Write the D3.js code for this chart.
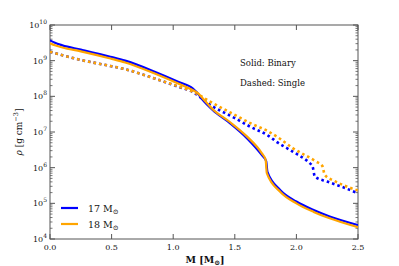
<!DOCTYPE html>
<html><head><meta charset="utf-8">
<script src="https://cdn.jsdelivr.net/npm/d3@7"></script>
<style>body{margin:0;background:#fff}svg{display:block}text{font-family:"DejaVu Serif",serif;fill:#111}</style>
</head><body><svg id="c" width="399" height="266"></svg>
<script>
// Data (log10 density vs. mass coordinate)
const massSolid17 = [0,0.04,0.1,0.25,0.49,0.61,0.85,1.04,1.16,1.19,1.23,1.32,1.46,1.6,1.72,1.755,1.765,1.87,2.0,2.14,2.27,2.5];
const logRhoBinary17 = [9.57,9.50,9.43,9.31,9.11,9.0,8.69,8.41,8.22,8.12,7.94,7.62,7.25,6.82,6.35,6.18,5.88,5.37,5.05,4.81,4.63,4.39];
const massSolid18 = [0,0.04,0.1,0.25,0.49,0.61,0.85,1.04,1.16,1.2,1.23,1.32,1.46,1.6,1.72,1.75,1.76,1.87,2.0,2.14,2.27,2.5];
const logRhoBinary18 = [9.49,9.43,9.37,9.26,9.06,8.95,8.64,8.36,8.17,8.09,7.98,7.64,7.28,6.87,6.40,6.22,5.85,5.32,5.00,4.76,4.58,4.33];
const massSingle17 = [0,0.08,0.25,0.49,0.61,0.85,1.04,1.16,1.3,1.5,1.63,1.77,1.85,1.97,2.11,2.13,2.15,2.25,2.38,2.5];
const logRhoSingle17 = [9.25,9.17,9.02,8.85,8.76,8.50,8.27,8.12,7.76,7.39,7.14,6.90,6.70,6.45,6.12,6.05,5.75,5.61,5.45,5.28];
const massSingle18 = [0,0.08,0.25,0.49,0.61,0.85,1.04,1.16,1.3,1.5,1.63,1.77,1.85,1.97,2.16,2.21,2.23,2.30,2.38,2.5];
const logRhoSingle18 = [9.25,9.17,9.02,8.85,8.76,8.50,8.28,8.13,7.85,7.48,7.24,7.02,6.85,6.55,6.17,6.05,5.80,5.64,5.51,5.36];
const xTicks = [0,0.5,1.0,1.5,2.0,2.5];
const yTickExps = [4,5,6,7,8,9,10];
const legendLabels = ["17 M","18 M"];
const colors = ["#0000ff","#ffa500"];

const svg = d3.select("#c");
const L=50,R=358,T=25,B=239;
const x = d3.scaleLinear().domain([0,2.5]).range([L,R]);
const y = d3.scaleLog().domain([1e4,1e10]).range([B,T]);
const axisColor="#555";

svg.append("rect").attr("x",L).attr("y",T).attr("width",R-L).attr("height",B-T)
  .attr("fill","none").attr("stroke",axisColor).attr("stroke-width",1);

const gx = svg.append("g");
xTicks.forEach(v=>{
  gx.append("line").attr("x1",x(v)).attr("x2",x(v)).attr("y1",B).attr("y2",B-5).attr("stroke",axisColor);
  gx.append("line").attr("x1",x(v)).attr("x2",x(v)).attr("y1",T).attr("y2",T+5).attr("stroke",axisColor);
  gx.append("text").attr("x",x(v)).attr("y",B+11).attr("text-anchor","middle").attr("font-size",8).text(v.toFixed(1));
});
const gy = svg.append("g");
yTickExps.forEach(e=>{
  const p = y(Math.pow(10,e));
  gy.append("line").attr("x1",L).attr("x2",L+5).attr("y1",p).attr("y2",p).attr("stroke",axisColor);
  gy.append("line").attr("x1",R).attr("x2",R-5).attr("y1",p).attr("y2",p).attr("stroke",axisColor);
  const t = gy.append("text").attr("x",L-3).attr("y",p+3).attr("text-anchor","end").attr("font-size",8);
  t.append("tspan").text("10");
  t.append("tspan").attr("dy",-4).attr("font-size",6).text(e);
  if(e<10){
    for(let k=2;k<=9;k++){
      const q = y(k*Math.pow(10,e));
      gy.append("line").attr("x1",L).attr("x2",L+2.5).attr("y1",q).attr("y2",q).attr("stroke",axisColor).attr("stroke-width",0.8);
      gy.append("line").attr("x1",R).attr("x2",R-2.5).attr("y1",q).attr("y2",q).attr("stroke",axisColor).attr("stroke-width",0.8);
    }
  }
});

const line = d3.line().curve(d3.curveMonotoneX).x(d=>x(d[0])).y(d=>y(Math.pow(10,d[1])));
svg.append("clipPath").attr("id","clp").append("rect").attr("x",L).attr("y",T).attr("width",R-L).attr("height",B-T);
const g = svg.append("g").attr("clip-path","url(#clp)");
const series = [
  [massSingle17,logRhoSingle17,colors[0],true],
  [massSingle18,logRhoSingle18,colors[1],true],
  [massSolid17,logRhoBinary17,colors[0],false],
  [massSolid18,logRhoBinary18,colors[1],false]
];
series.forEach(([m,r,c,dashed])=>{
  g.append("path").datum(m.map((v,j)=>[v,r[j]]))
    .attr("d",line).attr("fill","none").attr("stroke",c)
    .attr("stroke-width",dashed?2.6:2.2)
    .attr("stroke-dasharray",dashed?"2.6,3":null);
});

svg.append("text").attr("x",240).attr("y",66).attr("font-size",8.5).text("Solid: Binary");
svg.append("text").attr("x",240).attr("y",86).attr("font-size",8.5).text("Dashed: Single");

legendLabels.forEach((lab,i)=>{
  const yy = 208 + i*16;
  svg.append("line").attr("x1",61).attr("x2",78).attr("y1",yy).attr("y2",yy).attr("stroke",colors[i]).attr("stroke-width",2.2);
  const t = svg.append("text").attr("x",88).attr("y",yy+4).attr("font-size",9.5);
  t.append("tspan").text(lab);
  t.append("tspan").attr("dy",2).attr("font-size",7).text("⊙");
});

const xl = svg.append("text").attr("x",205).attr("y",263).attr("text-anchor","middle").attr("font-size",9.5).attr("font-weight","bold");
xl.append("tspan").text("M [M");
xl.append("tspan").attr("dy",2).attr("font-size",7).text("⊙");
xl.append("tspan").attr("dy",-2).text("]");

const yl = svg.append("text").attr("transform","translate(22,132) rotate(-90)").attr("text-anchor","middle").attr("font-size",9);
yl.append("tspan").attr("font-style","italic").text("ρ");
yl.append("tspan").text(" [g cm");
yl.append("tspan").attr("dy",-4).attr("font-size",6.5).text("−3");
yl.append("tspan").attr("dy",4).text("]");
</script></body></html>
